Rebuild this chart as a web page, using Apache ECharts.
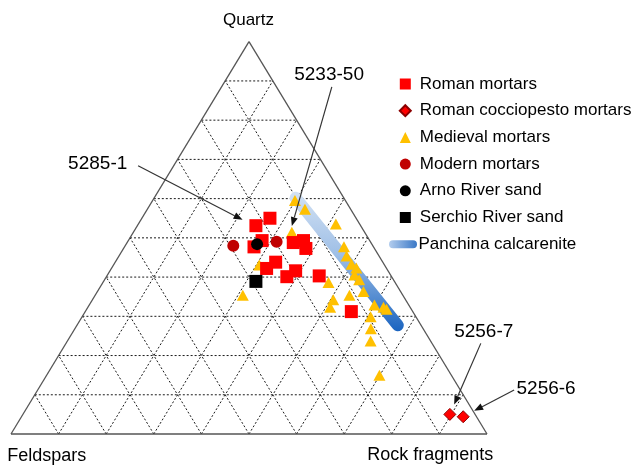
<!DOCTYPE html>
<html><head><meta charset="utf-8">
<script src="https://cdn.jsdelivr.net/npm/echarts@6/dist/echarts.min.js"></script>
<style>html,body{margin:0;padding:0;background:#fff}#c{width:638px;height:467px}</style>
</head><body><div id="c"></div>
<script>
// Ternary compositions, each point = [Quartz, Feldspars, Rock fragments] in %
const vertexLabels = ['Quartz', 'Feldspars', 'Rock fragments'];
const seriesNames = ['Roman mortars', 'Roman cocciopesto mortars', 'Medieval mortars',
  'Modern mortars', 'Arno River sand', 'Serchio River sand', 'Panchina calcarenite'];

const romanMortars = [
  [55.0,18.1,26.9],[53.1,22.0,24.9],[49.3,22.6,28.1],[47.7,25.1,27.2],
  [48.8,16.3,34.9],[49.3,13.9,36.8],[47.3,14.4,38.3],[43.8,22.5,33.7],
  [42.2,25.2,32.6],[41.6,19.4,39.0],[40.1,22.0,37.9],[40.3,15.1,44.6],
  [31.2,12.9,55.9]
];
const cocciopestoMortars = [[5.0,5.3,89.7],[4.4,2.8,92.8]];
const medievalMortars = [
  [59.5,10.6,29.9],[57.3,9.6,33.1],[51.4,15.3,33.3],[53.5,5.0,41.5],
  [47.7,6.2,46.1],[45.4,6.8,47.8],[43.3,6.8,49.9],[42.3,6.3,51.4],
  [40.5,7.6,51.9],[39.3,7.2,53.5],[36.3,7.8,55.9],[38.6,14.0,47.4],
  [35.4,11.2,53.4],[34.2,15.2,50.6],[32.3,16.8,50.9],[32.9,7.2,59.9],
  [32.3,5.6,62.1],[31.8,5.2,63.0],[29.9,9.5,60.6],[26.8,11.0,62.2],
  [23.7,12.6,63.7],[15.0,15.1,69.9],[43.1,26.3,30.6],[35.4,33.6,31.0]
];
const modernMortars = [[48.0,29.3,22.7],[49.0,19.7,31.3]];
const arnoSand = [[48.4,24.1,27.5]];
const serchioSand = [[38.9,29.1,32.0]];
const panchinaCalcarenite = [[60.2,10.1,29.7],[27.7,4.9,67.4]];

// sample labels with the composition they point at
const annotationLabels = ['5285-1', '5233-50', '5256-7', '5256-6'];
const annotationTargets = [[53.1,22.0,24.9],[51.4,15.3,33.3],[5.0,5.3,89.7],[4.4,2.8,92.8]];

// ternary -> cartesian (x along base 0..100, y = quartz height 0..100)
function toXY(p) { return [p[2] + p[0] / 2, p[0]]; }

// layout of annotation texts/arrow starts (chart units) and arrow tip offsets
const annotationLayout = [
  {text: [12.0, 69.0], from: [26.7, 68.4], tipShift: [-2.8, 1.5]},
  {text: [59.5, 91.6], from: [67.4, 88.5], tipShift: [0, 1.6]},
  {text: [93.1, 26.1], from: [98.7, 23.1], tipShift: [0.9, 2.5]},
  {text: [106.2, 11.6], from: [105.7, 11.2], tipShift: [2.3, 1.5]}
];

const gridSegments = [];
for (let v = 10; v < 100; v += 10) {
  gridSegments.push([v / 2, v, 100 - v / 2, v]);
  gridSegments.push([v, 0, v + (100 - v) / 2, 100 - v]);
  gridSegments.push([100 - v, 0, (100 - v) / 2, 100 - v]);
}
const outlineSegments = [[0,0,100,0],[100,0,50,100],[50,100,0,0]];

const FONT = '"Liberation Sans", Arial, sans-serif';
const chart = echarts.init(document.getElementById('c'), null, {renderer: 'canvas'});

function segRender(stroke, width, dash) {
  return function (params, api) {
    const a = api.coord([api.value(0), api.value(1)]);
    const b = api.coord([api.value(2), api.value(3)]);
    return {type: 'line', shape: {x1: a[0], y1: a[1], x2: b[0], y2: b[1]},
      style: {stroke: stroke, lineWidth: width, lineDash: dash}};
  };
}

const annData = annotationLabels.map((t, i) => {
  const L = annotationLayout[i];
  const tip = toXY(annotationTargets[i]);
  return [L.text[0], L.text[1], L.from[0], L.from[1], tip[0] + L.tipShift[0], tip[1] + L.tipShift[1]];
});

const lineGradient = new echarts.graphic.LinearGradient(0, 0, 0, 1, [
  {offset: 0, color: '#d3e2f4'}, {offset: 0.45, color: '#9fbfe6'}, {offset: 1, color: '#1a64c0'}
]);
const legendGradient = new echarts.graphic.LinearGradient(0, 0, 1, 0, [
  {offset: 0, color: '#b3cdee'}, {offset: 1, color: '#3a78c6'}
]);

const scatterBase = {type: 'scatter', silent: true, clip: false};
const legendText = {fontSize: 17, fontFamily: FONT, color: '#000'};

chart.setOption({
  animation: false,
  grid: {left: 11, top: 41.7, width: 476, height: 392.3},
  xAxis: {type: 'value', min: 0, max: 100, show: false},
  yAxis: {type: 'value', min: 0, max: 100, show: false},
  legend: [{
    data: seriesNames.slice(0, 6),
    orient: 'vertical', left: 398.8, top: 75.5, padding: 0, itemWidth: 11, itemHeight: 11, itemGap: 9.7,
    selectedMode: false,
    textStyle: Object.assign({padding: [0, 0, 0, 4]}, legendText)
  }, {
    data: [{name: seriesNames[6], icon: 'path://M4,0 H24 A4,4 0 0 1 24,8 H4 A4,4 0 0 1 4,0 Z', itemStyle: {color: legendGradient}}],
    orient: 'vertical', left: 389, top: 235.8, padding: 0, itemWidth: 29, itemHeight: 8,
    selectedMode: false,
    textStyle: Object.assign({padding: [0, 0, 0, -4]}, legendText)
  }],
  graphic: [
    {type: 'text', x: 248.5, y: 20, style: {text: vertexLabels[0], font: '17px ' + FONT, fill: '#000', align: 'center', verticalAlign: 'middle'}},
    {type: 'text', x: 7.3, y: 456, style: {text: vertexLabels[1], font: '18px ' + FONT, fill: '#000', align: 'left', verticalAlign: 'middle'}},
    {type: 'text', x: 367.3, y: 455.5, style: {text: vertexLabels[2], font: '18px ' + FONT, fill: '#000', align: 'left', verticalAlign: 'middle'}}
  ],
  series: [
    {type: 'custom', silent: true, clip: false, z: 1, data: gridSegments,
      encode: {x: [0, 2], y: [1, 3]}, renderItem: segRender('#1a1a1a', 1, [2, 2])},
    {type: 'custom', silent: true, clip: false, z: 1, data: outlineSegments,
      encode: {x: [0, 2], y: [1, 3]}, renderItem: segRender('#555', 1.3, null)},
    {type: 'line', name: seriesNames[6], silent: true, clip: false, z: 2, symbol: 'none', showSymbol: false,
      data: panchinaCalcarenite.map(toXY),
      lineStyle: {width: 12, cap: 'round', color: lineGradient}, itemStyle: {color: '#3a78c6'}},
    Object.assign({}, scatterBase, {name: seriesNames[2], z: 3, symbol: 'triangle', symbolSize: [12, 11],
      data: medievalMortars.map(toXY), itemStyle: {color: '#FFC000', opacity: 1}}),
    Object.assign({}, scatterBase, {name: seriesNames[0], z: 4, symbol: 'rect', symbolSize: 13,
      data: romanMortars.map(toXY), itemStyle: {color: '#FF0000', opacity: 1}}),
    Object.assign({}, scatterBase, {name: seriesNames[1], z: 4, symbol: 'diamond', symbolSize: 12,
      data: cocciopestoMortars.map(toXY), itemStyle: {color: '#FF0000', borderColor: '#8B0000', borderWidth: 1, opacity: 1}}),
    Object.assign({}, scatterBase, {name: seriesNames[3], z: 5, symbol: 'circle', symbolSize: 12,
      data: modernMortars.map(toXY), itemStyle: {color: '#C00000', opacity: 1}}),
    Object.assign({}, scatterBase, {name: seriesNames[4], z: 6, symbol: 'circle', symbolSize: 12,
      data: arnoSand.map(toXY), itemStyle: {color: '#000', opacity: 1}}),
    Object.assign({}, scatterBase, {name: seriesNames[5], z: 6, symbol: 'rect', symbolSize: 13,
      data: serchioSand.map(toXY), itemStyle: {color: '#000', opacity: 1}}),
    {type: 'custom', silent: true, clip: false, z: 10, data: annData,
      encode: {x: [0, 2, 4], y: [1, 3, 5]},
      renderItem: function (params, api) {
        const t = api.coord([api.value(0), api.value(1)]);
        const f = api.coord([api.value(2), api.value(3)]);
        const p = api.coord([api.value(4), api.value(5)]);
        const dx = p[0] - f[0], dy = p[1] - f[1];
        const len = Math.sqrt(dx * dx + dy * dy);
        const ux = dx / len, uy = dy / len;
        const L = 9, W = 3.5;
        const bx = p[0] - ux * L, by = p[1] - uy * L;
        return {type: 'group', children: [
          {type: 'text', x: t[0], y: t[1], style: {text: annotationLabels[params.dataIndex], font: '19px ' + FONT, fill: '#000', align: 'left', verticalAlign: 'middle'}},
          {type: 'line', shape: {x1: f[0], y1: f[1], x2: bx, y2: by}, style: {stroke: '#333', lineWidth: 1.2}},
          {type: 'polygon', shape: {points: [[p[0], p[1]], [bx - uy * W, by + ux * W], [bx + uy * W, by - ux * W]]}, style: {fill: '#111'}}
        ]};
      }}
  ]
});
</script>
</body></html>
